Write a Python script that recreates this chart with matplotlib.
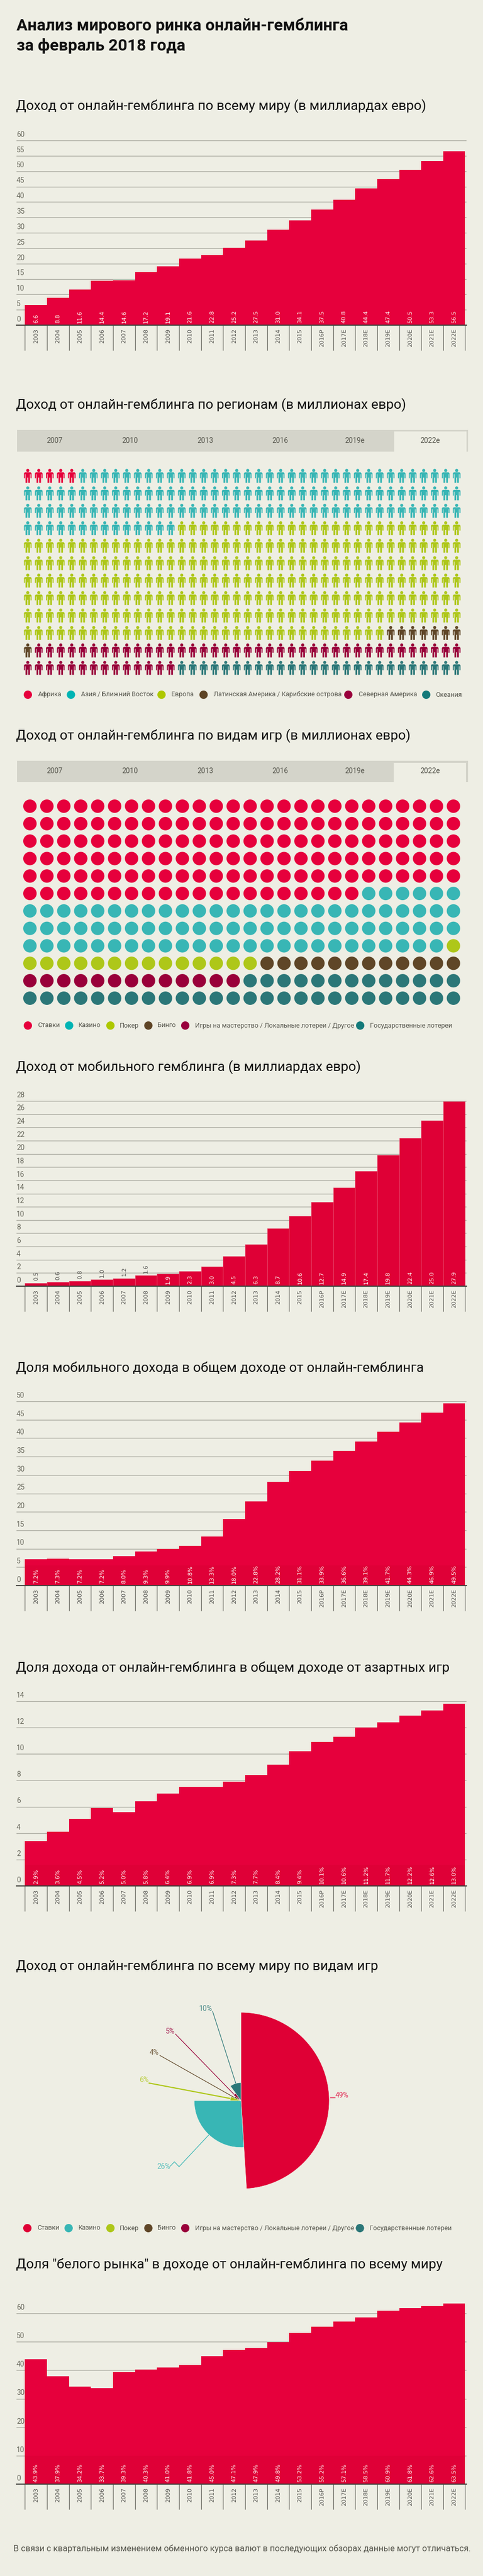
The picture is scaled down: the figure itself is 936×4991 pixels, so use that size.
import numpy as np
import matplotlib
matplotlib.use('Agg')
import matplotlib.pyplot as plt
from matplotlib.patches import Rectangle, Wedge
from matplotlib.path import Path

W, H = 937, 4991
BG = '#EEEEE4'

years = ['2003', '2004', '2005', '2006', '2007', '2008', '2009', '2010', '2011', '2012',
         '2013', '2014', '2015', '2016P', '2017E', '2018E', '2019E', '2020E', '2021E', '2022E']

world_revenue = [6.6, 8.8, 11.6, 14.4, 14.6, 17.2, 19.1, 21.6, 22.8, 25.2,
                 27.5, 31.0, 34.1, 37.5, 40.8, 44.4, 47.4, 50.5, 53.3, 56.5]
mobile_revenue = [0.5, 0.6, 0.8, 1.0, 1.2, 1.6, 1.9, 2.3, 3.0, 4.5,
                  6.3, 8.7, 10.6, 12.7, 14.9, 17.4, 19.8, 22.4, 25.0, 27.9]
mobile_share = [7.2, 7.3, 7.2, 7.2, 8.0, 9.3, 9.9, 10.8, 13.3, 18.0,
                22.8, 28.2, 31.1, 33.9, 36.6, 39.1, 41.7, 44.3, 46.9, 49.5]
# in this chart the bars stand higher than their printed labels
online_share_bars = [3.4, 4.1, 5.1, 5.9, 5.6, 6.4, 7.0, 7.5, 7.5, 7.9,
                     8.4, 9.2, 10.2, 10.9, 11.3, 12.0, 12.4, 12.9, 13.3, 13.8]
online_share_labels = [2.9, 3.6, 4.5, 5.2, 5.0, 5.8, 6.4, 6.9, 6.9, 7.3,
                       7.7, 8.4, 9.4, 10.1, 10.6, 11.2, 11.7, 12.2, 12.6, 13.0]
white_market = [43.9, 37.9, 34.2, 33.7, 39.3, 40.3, 41.0, 41.8, 45.0, 47.1,
                47.9, 49.8, 53.2, 55.2, 57.1, 58.5, 60.9, 61.8, 62.6, 63.5]

tab_labels = ['2007', '2010', '2013', '2016', '2019e', '2022e']

region_names = ['Африка', 'Азия / Ближний Восток', 'Европа', 'Латинская Америка / Карибские острова',
                'Северная Америка', 'Океания']
region_counts = [5, 129, 259, 8, 53, 26]

game_names = ['Ставки', 'Казино', 'Покер', 'Бинго', 'Игры на мастерство / Локальные лотереи / Другое',
              'Государственные лотереи']
game_counts = [150, 83, 15, 12, 13, 39]
game_shares = [49, 26, 6, 4, 5, 10]

icon_colors = ['#E6003C', '#38B6B5', '#AEC719', '#5F4627', '#99003A', '#2B7778']
legend_colors = ['#E6003C', '#00B4B4', '#AEC800', '#5E4425', '#99003C', '#147A7A']
pie_colors = ['#DF0035', '#38B6B5', '#AEC719', '#5F4627', '#99003A', '#2B7778']
RED = '#E6003C'

# the original face is a condensed one, Roboto is the closest installed
FONT = 'Roboto'
GREY = '#55554C'

fig = plt.figure(figsize=(W / 100, H / 100), dpi=100, facecolor=BG)


def px_axes(left, top, right, bottom):
    ax = fig.add_axes([left / W, 1 - bottom / H, (right - left) / W, (bottom - top) / H])
    ax.patch.set_alpha(0)
    return ax


page = px_axes(0, 0, W, H)
page.set_xlim(0, W)
page.set_ylim(H, 0)
page.axis('off')


def subtitle(y, text, size=18.9):
    page.text(31, y, text, family=FONT, fontsize=size, color='#111111', va='center', ha='left')


def bar_chart(top, zero, ticks, values, labels, suffix='', outside=0, band=None, color=RED, sep=False):
    left, right = 32, 904
    first, last = 48.5, 901.5
    step = (last - first) / len(values)
    ax = px_axes(left, top, right, zero)
    x = np.arange(len(values))
    xl = -0.5 - (first - left) / step
    ax.set_xlim(xl, len(values) - 0.5 + (right - last) / step)
    ax.set_ylim(0, ticks[-1])
    ax.set_axisbelow(True)
    ax.yaxis.grid(True, color='#A9A99F', lw=1.0)
    ax.set_yticks(ticks)
    ax.tick_params(axis='y', length=0, labelleft=False)
    edge = {'edgecolor': '#E8486C', 'linewidth': 0.5} if sep else {'linewidth': 0}
    ax.bar(x, values, width=1.0, color=color, clip_on=False, **edge)
    if band:
        ax.bar(x, np.minimum(values, band), width=1.0, color='#DF0037', linewidth=0, clip_on=False)
    for s in ['top', 'left', 'right']:
        ax.spines[s].set_visible(False)
    ax.spines['bottom'].set_color('#444440')
    ax.spines['bottom'].set_linewidth(1.6)
    # long ticks make the cells under the axis
    ax.set_xticks(np.arange(len(values) + 1) - 0.5)
    ax.tick_params(axis='x', length=49 * 0.72, width=0.9, color='#66665E', labelbottom=False)
    for t in ticks:
        ax.annotate(str(t), (xl, t), xytext=(0, 3), textcoords='offset points', family=FONT,
                    fontsize=10, color='#66665A', ha='left', va='bottom')
    for i, (v, lab) in enumerate(zip(values, labels)):
        ax.annotate(years[i], (i, 0), xytext=(0, -5), textcoords='offset points', rotation=90,
                    fontsize=8, color='#50504C', ha='center', va='top')
        text = '%.1f%s' % (lab, suffix)
        if i < outside:
            ax.annotate(text, (i, v), xytext=(0, 3), textcoords='offset points', rotation=90,
                        fontsize=8, color='#50504C', ha='center', va='bottom')
        else:
            ax.annotate(text, (i, 0), xytext=(0, 3), textcoords='offset points', rotation=90,
                        fontsize=8, color='white', ha='center', va='bottom')


def tabs(top, bottom, active_top, active_left, active_right):
    page.add_patch(Rectangle((33, top), 874, bottom - top, color='#D4D4CA', lw=0))
    page.add_patch(Rectangle((active_left, active_top), active_right - active_left, bottom - active_top + 1,
                             color=BG, lw=0))
    for cx, lab in zip([106, 252, 397.5, 543, 688, 834], tab_labels):
        page.text(cx, (top + bottom) / 2, lab, family=FONT, fontsize=10, color='#55554C',
                  ha='center', va='center')


def legend(y, dots, starts, labels, colors):
    page.scatter(dots, [y] * len(dots), s=135, c=colors, linewidths=0)
    for sx, lab in zip(starts, labels):
        page.text(sx, y, lab, family=FONT, fontsize=9.2, color=GREY, ha='left', va='center')


def unit_grid(left, top, right, bottom, ncols, nrows, counts, colors, marker, size):
    ax = px_axes(left, top, right, bottom)
    ax.set_xlim(0, ncols - 1)
    ax.set_ylim(nrows - 1, 0)
    ax.axis('off')
    total = sum(counts)
    rows, cols = np.divmod(np.arange(total), ncols)
    ax.scatter(cols, rows, s=size, marker=marker, c=np.repeat(colors, counts), linewidths=0, clip_on=False)


# little man, drawn around the origin
half = [(0, 6.8), (5.6, 6.8), (7.4, 5), (7.4, -4.5), (5.4, -4.5), (5.4, 3), (4.3, 3), (4.3, -13.5),
        (0.9, -13.5), (0.9, -3.5)]
body = half + [(-a, b) for a, b in half[:0:-1]] + [(0, 6.8)]
person = Path.make_compound_path(Path.circle((0, 10.5), 3.0), Path(body, closed=True))

# headline
page.text(32, 50, 'Анализ мирового ринка онлайн-гемблинга', family=FONT, weight='bold',
          fontsize=22.9, color='#111111', va='center')
page.text(32, 89, 'за февраль 2018 года', family=FONT, weight='bold',
          fontsize=22.9, color='#111111', va='center')

# world revenue
subtitle(206, 'Доход от онлайн-гемблинга по всему миру (в миллиардах евро)')
bar_chart(272, 630, list(range(0, 61, 5)), world_revenue, world_revenue)

# regions
subtitle(785, 'Доход от онлайн-гемблинга по регионам (в миллионах евро)')
tabs(833, 875, 836, 764, 904)
unit_grid(53.8, 922, 885, 1294, 40, 12, region_counts, icon_colors, person, 378)
legend(1346, [54, 137.5, 313, 394.5, 675, 826], [73.5, 156.6, 332, 413.6, 694.6, 844], region_names, legend_colors)

# game types
subtitle(1426, 'Доход от онлайн-гемблинга по видам игр (в миллионах евро)')
tabs(1474, 1515, 1478, 763, 903)
unit_grid(58, 1562, 878.7, 1934, 26, 12, game_counts, icon_colors, 'o', 350)
legend(1987, [54, 134, 214, 287.5, 359, 698], [73, 152, 232, 305.5, 378, 717], game_names, legend_colors)

# mobile revenue
subtitle(2068, 'Доход от мобильного гемблинга (в миллиардах евро)')
bar_chart(2133, 2492, list(range(0, 29, 2)), mobile_revenue, mobile_revenue, outside=6, color='#DF0036', sep=True)

# mobile share
subtitle(2650, 'Доля мобильного дохода в общем доходе от онлайн-гемблинга')
bar_chart(2715, 3072, list(range(0, 51, 5)), mobile_share, mobile_share, suffix='%', band=5.4)

# online share
subtitle(3232, 'Доля дохода от онлайн-гемблинга в общем доходе от азартных игр')
bar_chart(3296, 3654, list(range(0, 15, 2)), online_share_bars, online_share_labels, suffix='%', band=1.6)

# rose pie, each radius follows the share
subtitle(3809, 'Доход от онлайн-гемблинга по всему миру по видам игр')
cx, cy, unit = 467, 4070, 3.49
rmax = unit * max(game_shares)
pie = px_axes(cx - rmax, cy - rmax, cx + rmax, cy + rmax)
pie.set_xlim(-rmax, rmax)
pie.set_ylim(-rmax, rmax)
pie.axis('off')
start = 0.0
for share, col in zip(game_shares, pie_colors):
    sweep = share * 3.6
    pie.add_patch(Wedge((0, 0), unit * share, 90 - start - sweep, 90 - start, facecolor=col,
                        edgecolor='#F4F4EC', linewidth=0.5, clip_on=False))
    start += sweep

leaders = [
    ('49%', 663, 4060, [(640, 4064), (649, 4064)], 0),
    ('26%', 317, 4198, [(405, 4136), (347, 4198), (338, 4188.5), (330, 4197)], 1),
    ('6%', 279, 4030, [(289, 4036), (463, 4069)], 2),
    ('4%', 299, 3977, [(310, 3982.5), (463, 4069)], 3),
    ('5%', 330, 3936, [(340, 3941), (463, 4067.6)], 4),
    ('10%', 399, 3892, [(412, 3897), (457, 4036.6)], 5),
]
for lab, tx, ty, pts, k in leaders:
    xs, ys = zip(*pts)
    page.plot(xs, ys, color=pie_colors[k], lw=1.6 if k == 2 else 0.9, zorder=3)
    page.text(tx, ty, lab, family=FONT, fontsize=10, color=pie_colors[k], alpha=0.85,
              ha='center', va='center')
legend(4317, [53, 133, 214, 287.5, 359, 697.5], [72, 152, 232, 305, 378, 716], game_names, pie_colors)

# white market
subtitle(4388, 'Доля "белого рынка" в доходе от онлайн-гемблинга по всему миру')
bar_chart(4482, 4813, list(range(0, 61, 10)), white_market, white_market, suffix='%', band=10)

page.text(26, 4938, 'В связи с квартальным изменением обменного курса валют в последующих обзорах данные могут отличаться.',
          family=FONT, fontsize=12.1, color='#55554C', ha='left', va='center')

fig.savefig('out.png', dpi=100, facecolor=BG)
